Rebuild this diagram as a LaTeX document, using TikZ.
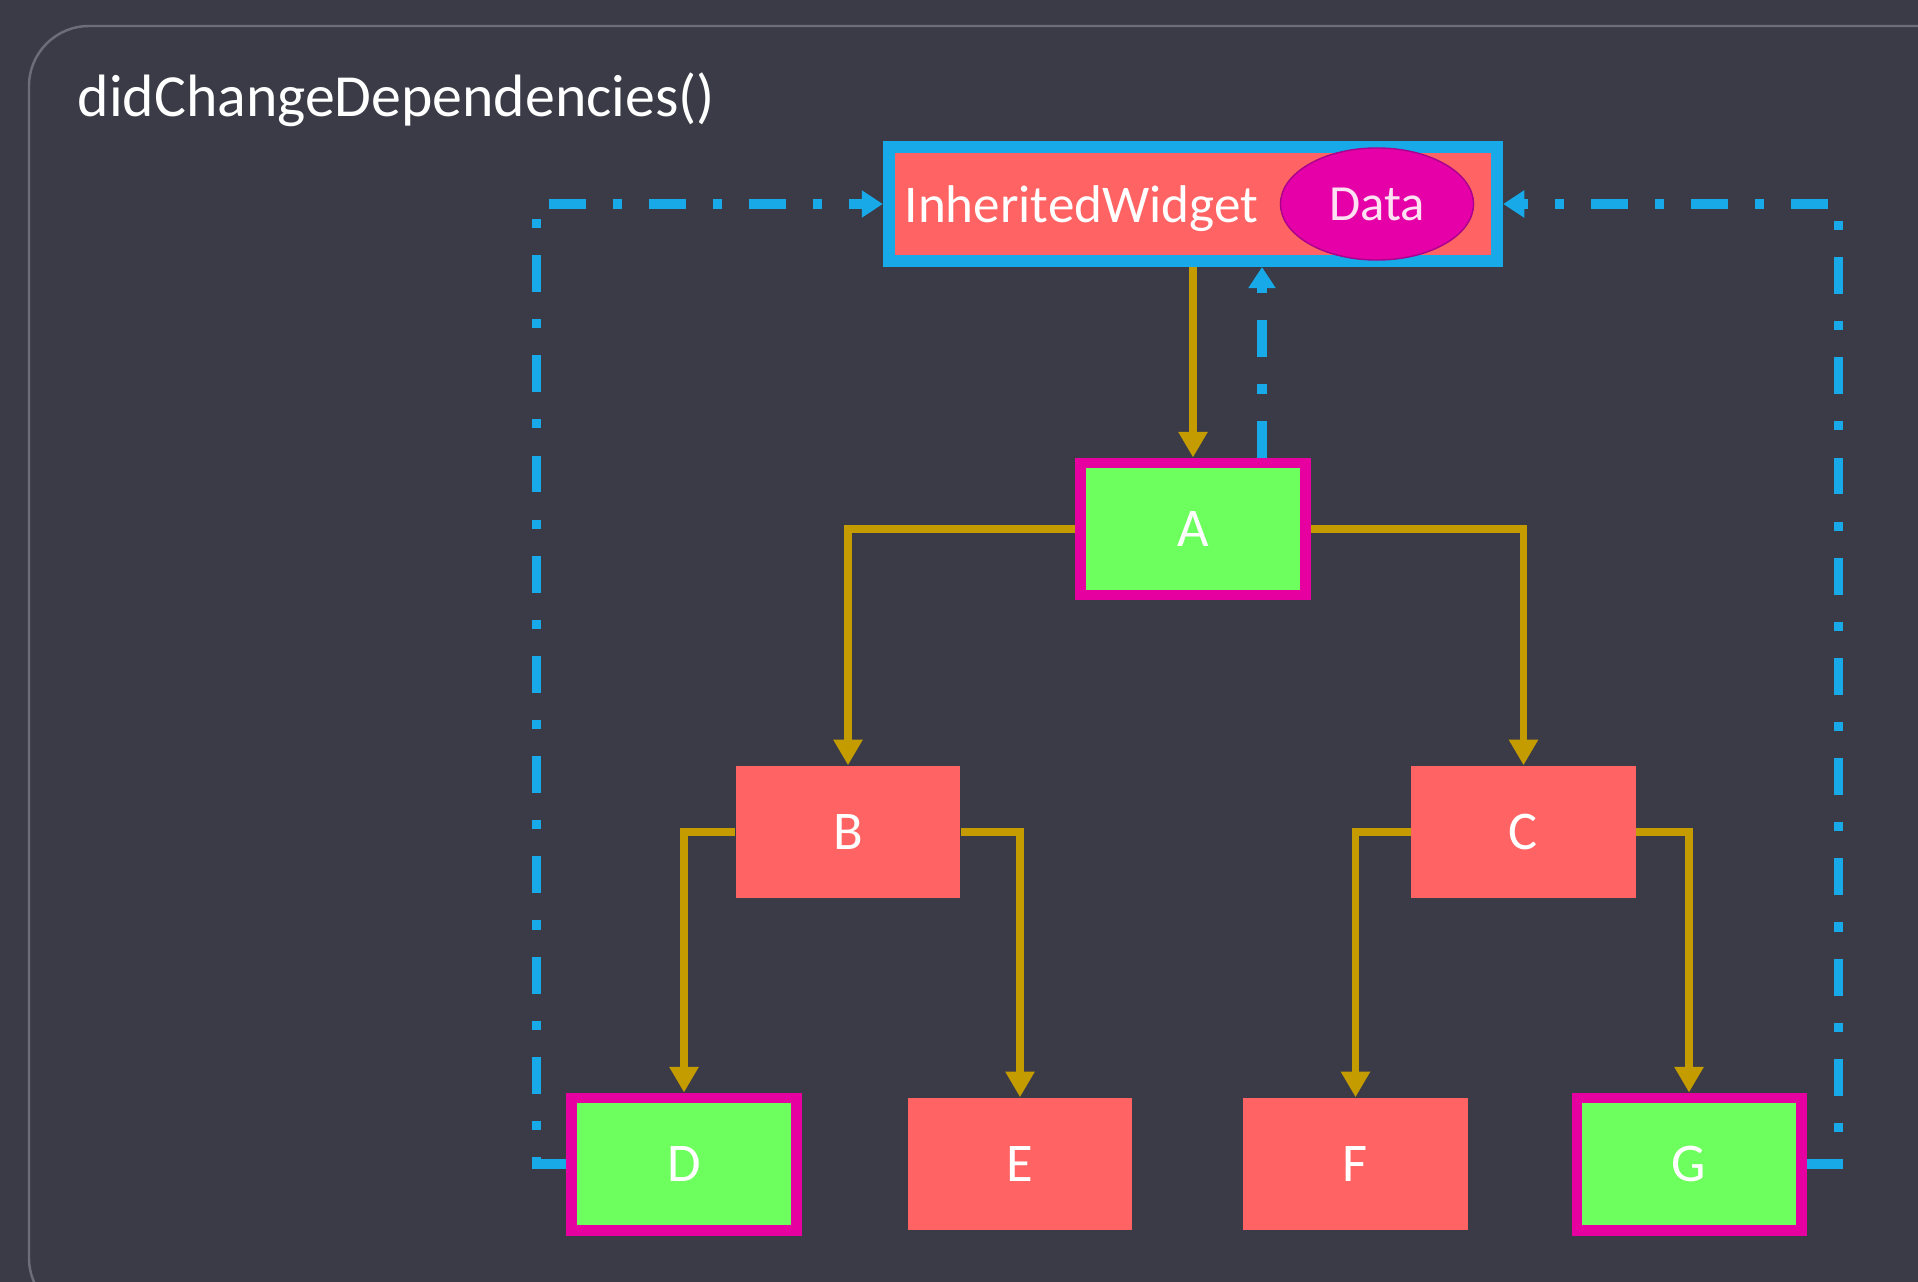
\documentclass[tikz,border=0pt]{standalone}
\usepackage{fontspec}
\setmainfont{Carlito}
\usetikzlibrary{arrows.meta,shapes.geometric,calc}
\definecolor{bgc}{HTML}{3A3B47}
\definecolor{panelline}{HTML}{6B6D78}
\definecolor{boxred}{HTML}{FF6363}
\definecolor{boxgreen}{HTML}{6DFF5D}
\definecolor{magborder}{HTML}{E5009F}
\definecolor{flblue}{HTML}{17A9E8}
\definecolor{gold}{HTML}{C59C00}
\definecolor{datafill}{HTML}{E600A8}
\definecolor{dataline}{HTML}{A8008C}
\tikzset{
  redbox/.style={rectangle, fill=boxred, minimum width=2.24cm, minimum height=1.32cm, inner sep=0pt, text=white, font=\fontsize{15.5pt}{18pt}\selectfont},
  greenbox/.style={rectangle, fill=boxgreen, draw=magborder, line width=3.1pt, minimum width=2.24cm, minimum height=1.32cm, inner sep=0pt, text=white, font=\fontsize{15.5pt}{18pt}\selectfont},
  iwbox/.style={rectangle, fill=boxred, draw=flblue, line width=3.4pt, minimum width=6.08cm, minimum height=1.14cm, inner sep=0pt},
  goldarrow/.style={draw=gold, line width=2.1pt, -{Triangle[length=7.3pt,width=7.9pt]}},
  bluedash/.style={draw=flblue, line width=2.6pt, dash pattern=on 10.5pt off 7.7pt on 2.6pt off 7.7pt},
  bluearrow/.style={bluedash, -{Triangle[length=6pt,width=7.4pt]}},
}
\begin{document}
\begin{tikzpicture}[x=0.01cm,y=-0.01cm]
\useasboundingbox (0,0) rectangle (1918,1282);
\fill[bgc] (0,0) rectangle (1918,1282);
\draw[panelline, line width=0.7pt, rounded corners=0.6cm] (2000,26) -- (29,26) -- (29,1318) -- (2000,1318);
\node[anchor=base west, text=white, font=\fontsize{17pt}{20pt}\selectfont, inner sep=0pt] (title) at (77,117) {didChangeDependencies()};
% nodes
\node[iwbox] (IW) at (1193,204) {};
\node[anchor=base west, text=white, font=\fontsize{15.1pt}{18pt}\selectfont, inner sep=0pt] (IWtext) at (904,222) {InheritedWidget};
\node[ellipse, fill=datafill, draw=dataline, line width=0.4pt, minimum width=1.93cm, minimum height=1.12cm, inner sep=0pt, text=white!88!magenta, font=\fontsize{14.4pt}{17pt}\selectfont] (Data) at (1377,204) {Data};
\node[greenbox] (A) at (1193,529) {A};
\node[redbox] (B) at (848,832) {B};
\node[redbox] (C) at (1523.5,832) {C};
\node[greenbox] (D) at (684,1164) {D};
\node[redbox] (E) at (1020,1164) {E};
\node[redbox] (F) at (1355.5,1164) {F};
\node[greenbox] (G) at (1689,1164) {G};
% gold tree connectors
\draw[goldarrow] (IW.south) -- (A.north);
\draw[goldarrow] (A.west) -| (B.north);
\draw[goldarrow] (A.east) -| (C.north);
\draw[goldarrow] (B.west) -| (D.north);
\draw[goldarrow] (B.east) -| (E.north);
\draw[goldarrow] (C.west) -| (F.north);
\draw[goldarrow] (C.east) -| (G.north);
% blue dependency connectors
\coordinate (Aup) at ($(A.north)+(69,0)$);
\draw[bluearrow] (Aup) -- (Aup |- IW.south);
\draw[bluearrow] (D.west) -- ++(-30,0) |- (IW.west);
\draw[bluearrow] (G.east) -- ++(32,0) |- (IW.east);
\end{tikzpicture}
\end{document}
